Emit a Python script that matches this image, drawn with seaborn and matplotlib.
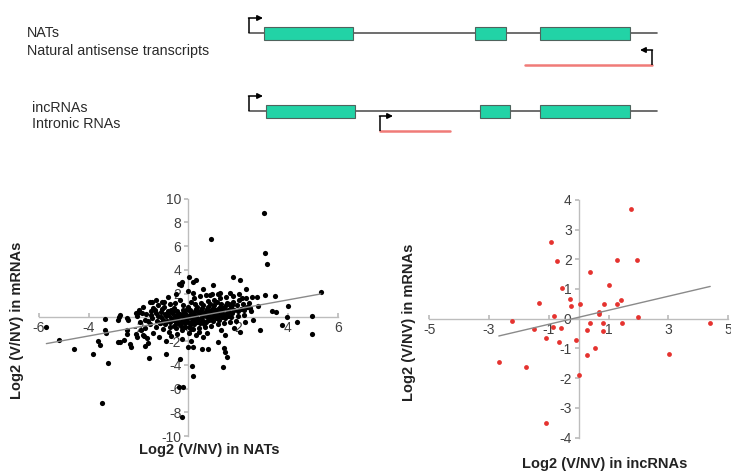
import numpy as np
import pandas as pd
import matplotlib
matplotlib.use('Agg')
import matplotlib.pyplot as plt
from matplotlib.patches import Rectangle
import seaborn as sns

sns.set_theme(style='white')
plt.rcParams['font.family'] = ['Liberation Sans', 'DejaVu Sans']
plt.rcParams['axes.unicode_minus'] = False

# NATs vs mRNAs (left panel), sparse points
nat_out_x = [3.02, 0.90, 3.08, 3.15, 5.32, -5.70, -5.19, -4.58, -3.82, -3.24,
             -3.47, -0.24, -0.36, -0.23, 0.20, 0.13, -0.34, -1.58, -0.91, 1.39,
             1.54, 1.49, 1.43, 1.21, 0.80, 0.54, 0.00, 0.20, 2.88, 3.75,
             4.36, 4.96, 4.96, 3.95, 4.02, 3.53, 3.35, 3.49, 3.06, 2.75,
             2.79, 1.81, 2.08, -0.27, 0.04, 0.31, 0.20, -0.39, -0.30, 0.98,
             0.60, -1.47, -1.07, -1.97, -2.10, -2.75, -2.45, -3.35, -3.36, -3.31,
             -3.61, -3.55, -2.82, -2.48, -2.48, -2.35, -2.31, -2.82, -2.08, -2.10,
             -2.74, -2.58, -1.81, -1.67, -1.61, -1.74, -2.77, -2.41, 0.20, 1.27,
             1.67, 0.87, 2.30, 2.15]
nat_out_y = [8.79, 6.63, 5.45, 4.47, 2.13, -0.81, -1.94, -2.64, -3.12, -3.85,
             -7.19, -8.40, -5.84, -5.84, -4.97, -4.10, -3.48, -3.43, -3.06, -4.19,
             -3.34, -2.92, -2.56, -2.08, -2.64, -2.64, -2.50, -2.50, -1.10, -0.67,
             -0.39, -1.38, 0.08, 0.03, 0.93, 0.45, 0.53, 1.77, 1.85, 1.71,
             0.98, 3.37, 3.12, 2.98, 3.40, 3.17, 2.98, 2.84, 2.70, 2.75,
             2.42, 1.29, 1.29, 0.45, 0.39, 0.17, -0.06, -0.17, -1.10, -1.32,
             -2.02, -2.36, -2.08, -1.10, -1.38, -2.22, -2.50, -0.25, -1.66, -1.38,
             -2.11, -1.91, -1.49, -1.77, -2.19, -2.42, 0.00, -0.23, 2.07, 2.07,
             2.07, 1.88, 2.35, 1.60]

# dense cloud around the origin (estimated)
nat_core_x = [-2.0, -1.95, -1.9, -2.05, -1.8, -1.75, -1.7, -1.72, -1.78,
              -1.55, -1.5, -1.45, -1.52, -1.48, -1.4, -1.42,
              -1.3, -1.25, -1.2, -1.28, -1.22, -1.18, -1.3, -1.15,
              -1.05, -1.0, -0.95, -1.02, -0.98, -0.92, -1.08, -0.9, -0.96,
              -0.8, -0.75, -0.7, -0.78, -0.72, -0.68, -0.82, -0.74, -0.66, -0.7,
              -0.55, -0.5, -0.45, -0.52, -0.48, -0.42, -0.58, -0.46, -0.4, -0.5, -0.44,
              -0.3, -0.25, -0.2, -0.28, -0.22, -0.18, -0.32, -0.24, -0.16, -0.27, -0.2, -0.3,
              -0.05, 0.0, 0.05, -0.02, 0.03, 0.08, -0.08, 0.1, 0.02, 0.06, -0.04, 0.1, 0.0, 0.12,
              0.2, 0.25, 0.3, 0.22, 0.28, 0.32, 0.18, 0.26, 0.35, 0.24, 0.3, 0.2,
              0.45, 0.5, 0.55, 0.48, 0.52, 0.58, 0.42, 0.5, 0.6, 0.46, 0.56, 0.6,
              0.7, 0.75, 0.8, 0.72, 0.78, 0.82, 0.68, 0.76, 0.85, 0.7, 0.8, 0.74,
              0.95, 1.0, 1.05, 0.98, 1.02, 1.08, 0.92, 1.0, 1.1, 0.96, 1.05,
              1.2, 1.25, 1.3, 1.22, 1.28, 1.32, 1.18, 1.26, 1.35, 1.2, 1.3,
              1.45, 1.5, 1.55, 1.48, 1.52, 1.58, 1.42, 1.5, 1.6, 1.46,
              1.7, 1.75, 1.8, 1.72, 1.78, 1.82, 1.68, 1.76, 1.85,
              1.95, 2.0, 2.05, 1.98, 2.02, 2.1, 1.92, 2.08,
              2.2, 2.25, 2.3, 2.22, 2.28, 2.35,
              2.45, 2.5, 2.55, 2.6, 2.48,
              -0.9, -0.85, -0.6, -0.62, -0.35, -0.38, -0.12, -0.14, 0.14, 0.16,
              0.38, 0.4, 0.62, 0.64, 0.88, 0.9, 1.12, 1.14, 1.38, 1.4,
              1.62, 1.64, -1.1, -1.12, -0.05, 0.08, 0.34, 0.58, 0.86, 1.16,
              -0.15, 0.12, 0.44, -0.58, -0.82, -1.35, -1.6, -1.85]
nat_core_y = [0.6, -0.4, -1.1, 0.1, 0.9, -0.2, 0.3, -0.9, -1.6,
              1.3, 0.5, -0.1, -0.6, 0.2, -1.3, 0.8,
              0.4, -0.3, 1.0, -0.8, 0.1, -1.7, 1.5, -0.5,
              0.7, -0.2, 0.3, -1.0, 1.3, -0.6, 0.0, -2.0, 0.9,
              0.2, -0.4, 0.6, -1.2, 1.1, -0.1, 1.7, -0.8, 0.35, -1.6,
              0.1, -0.5, 0.5, 1.2, -0.9, 0.0, 0.8, -1.4, 0.3, 2.0, -0.2,
              0.2, -0.3, 0.6, -0.7, 1.0, -0.1, 1.5, -1.1, 0.4, -1.8, 0.05, -0.45,
              0.1, -0.4, 0.5, 0.9, -0.8, 0.2, -0.2, 1.3, -1.3, 0.0, 0.7, -0.55, 2.2, -2.0,
              0.3, -0.2, 0.7, -0.6, 1.1, 0.1, -1.0, 0.5, -0.4, 1.6, -1.5, 0.0,
              0.4, -0.1, 0.8, -0.5, 1.2, 0.2, -0.9, 0.6, -0.3, 1.8, 0.0, -1.7,
              0.5, 0.0, 0.9, -0.4, 1.4, 0.3, -0.8, 0.7, -0.2, 1.9, 0.15, -1.3,
              0.6, 0.1, 1.0, -0.3, 1.5, 0.4, -0.7, 0.8, -0.1, 2.0, 0.25,
              0.7, 0.2, 1.1, -0.2, 1.6, 0.5, -0.6, 0.9, 0.0, 1.95, -1.1,
              0.8, 0.3, 1.2, -0.1, 1.7, 0.6, -0.5, 1.0, 0.1, -1.5,
              0.9, 0.4, 1.3, 0.0, 1.8, 0.65, -0.4, 1.05, -0.9,
              1.0, 0.5, 1.5, 0.1, 2.0, 0.7, -0.3, -1.2,
              1.1, 0.6, 1.6, 0.2, -0.4, 0.9,
              1.2, 0.5, 1.7, -0.2, 0.8,
              0.15, -0.35, 0.45, -0.25, 0.25, -0.6, 0.35, -0.5, 0.15, -0.35,
              0.45, -0.15, 0.35, -0.6, 0.55, -0.05, 0.65, 0.2, 0.75, 0.3,
              0.45, 1.15, 0.45, -0.45, -0.1, 0.6, 0.9, 1.0, 1.15, 1.3,
              -0.8, -1.0, -1.2, -0.7, 0.55, 0.65, -0.35, 0.35]

# incRNAs vs mRNAs (right panel)
inc_x = [1.74, -0.93, -0.74, 1.27, 1.94, 0.38, -0.57, 1.00, -0.29, -0.26,
         0.04, -1.32, 1.41, 1.29, 0.84, 0.68, 0.68, -0.81, 2.00, -2.23,
         0.37, 0.81, 1.44, 4.40, -0.86, -0.60, -1.50, 0.29, 0.80, -1.10,
         -0.10, -0.66, 0.55, 0.28, 3.02, -2.67, -1.75, 0.00, -1.09]
inc_y = [3.69, 2.58, 1.94, 1.98, 1.98, 1.58, 1.04, 1.13, 0.65, 0.43,
         0.51, 0.52, 0.63, 0.48, 0.49, 0.22, 0.16, 0.09, 0.06, -0.08,
         -0.16, -0.16, -0.13, -0.13, -0.27, -0.31, -0.36, -0.37, -0.40, -0.66,
         -0.72, -0.80, -0.98, -1.22, -1.19, -1.45, -1.64, -1.90, -3.52]

left_xticks = [-6, -4, -2, 0, 2, 4, 6]
left_yticks = [-10, -8, -6, -4, -2, 0, 2, 4, 6, 8, 10]
right_xticks = [-5, -3, -1, 1, 3, 5]
right_yticks = [-4, -3, -2, -1, 0, 1, 2, 3, 4]

nats = pd.DataFrame({'x': nat_out_x + nat_core_x, 'y': nat_out_y + nat_core_y})
incs = pd.DataFrame({'x': inc_x, 'y': inc_y})

fig = plt.figure(figsize=(7.31, 4.71), dpi=100)

# ---- gene schematic (pixel coords) ----
ax0 = fig.add_axes([0, 0, 1, 1])
ax0.set_xlim(0, 731)
ax0.set_ylim(471, 0)
ax0.axis('off')

teal = '#22d3a6'
pink = '#f07b78'


def gene(y, exons):
    ax0.plot([249, 657], [y, y], color='#555555', lw=1.2, zorder=1)
    for a, b in exons:
        ax0.add_patch(Rectangle((a, y - 6.5), b - a, 13, fc=teal, ec='#4f635d', lw=0.8, zorder=2))


def bent_arrow(x, y, dx, color='black'):
    ax0.plot([x, x], [y, y - 15], color=color, lw=1.1, solid_capstyle='butt')
    ax0.annotate('', xy=(x + dx, y - 15), xytext=(x - 0.5 if dx > 0 else x + 0.5, y - 15),
                 arrowprops=dict(arrowstyle='-|>', color=color, lw=1.1,
                                 shrinkA=0, shrinkB=0, mutation_scale=8))


gene(33, [(264, 353), (475, 506), (540, 630)])
bent_arrow(249, 33, 14)
ax0.plot([525, 652], [65, 65], color=pink, lw=1.8)
bent_arrow(652, 65, -12)

gene(111, [(266, 355), (480, 510), (540, 630)])
bent_arrow(249, 111, 14)
ax0.plot([380, 450], [131, 131], color=pink, lw=1.8)
bent_arrow(380, 131, 13)

ax0.text(27, 33, 'NATs', fontsize=10.3, color='#2a2a2a', va='center')
ax0.text(27, 51, 'Natural antisense transcripts', fontsize=10.3, color='#2a2a2a', va='center')
ax0.text(32, 108, 'incRNAs', fontsize=10.3, color='#2a2a2a', va='center')
ax0.text(32, 124, 'Intronic RNAs', fontsize=10.3, color='#2a2a2a', va='center')


def cross_axes(ax, xt, yt):
    for s in ['top', 'right']:
        ax.spines[s].set_visible(False)
    for s in ['left', 'bottom']:
        ax.spines[s].set_position(('data', 0))
        ax.spines[s].set_color('#bdbdbd')
        ax.spines[s].set_linewidth(1.0)
    ax.set_xticks(xt)
    ax.set_yticks(yt)
    ax.set_xlim(xt[0], xt[-1])
    ax.set_ylim(yt[0], yt[-1])
    ax.tick_params(axis='x', bottom=True, direction='in', length=3, color='#bdbdbd',
                   labelsize=10, labelcolor='#404040', pad=3)
    ax.tick_params(axis='y', left=True, direction='out', length=3, color='#bdbdbd',
                   labelsize=10, labelcolor='#404040', pad=2)
    ax.patch.set_alpha(0)


# ---- left scatter ----
ax1 = fig.add_axes([0.0532, 0.0743, 0.4088, 0.504])
sns.scatterplot(data=nats, x='x', y='y', ax=ax1, color='black', s=14,
                linewidth=0, zorder=3)
sns.regplot(data=nats, x='x', y='y', ax=ax1, scatter=False, ci=None,
            line_kws=dict(color='#8a8a8a', lw=1.0, zorder=3))
cross_axes(ax1, left_xticks, left_yticks)
ax1.set_xlabel('Log2 (V/NV) in NATs', fontsize=10.5, fontweight='bold', color='#222222')
ax1.set_ylabel('Log2 (V/NV) in mRNAs', fontsize=10.5, fontweight='bold', color='#222222')
ax1.xaxis.set_label_coords((209 - 38.9) / 298.8, (436 - 450) / 237.4)
ax1.xaxis.label.set_va('center')
ax1.yaxis.set_label_coords((17 - 38.9) / 298.8, (436 - 320) / 237.4)
ax1.yaxis.label.set_va('center')

# ---- right scatter ----
ax2 = fig.add_axes([0.5871, 0.0711, 0.409, 0.5045])
sns.scatterplot(data=incs, x='x', y='y', ax=ax2, color='#e5332f', s=12,
                linewidth=0, zorder=3)
sns.regplot(data=incs, x='x', y='y', ax=ax2, scatter=False, ci=None,
            line_kws=dict(color='#8a8a8a', lw=1.0, zorder=3))
cross_axes(ax2, right_xticks, right_yticks)
ax2.set_xlabel('Log2 (V/NV) in incRNAs', fontsize=10.5, fontweight='bold', color='#222222')
ax2.set_ylabel('Log2 (V/NV) in mRNAs', fontsize=10.5, fontweight='bold', color='#222222')
ax2.xaxis.set_label_coords((605 - 429.2) / 299.0, (437.5 - 464) / 237.6)
ax2.xaxis.label.set_va('center')
ax2.yaxis.set_label_coords((409 - 429.2) / 299.0, (437.5 - 322) / 237.6)
ax2.yaxis.label.set_va('center')

fig.savefig('out.png', dpi=100)
